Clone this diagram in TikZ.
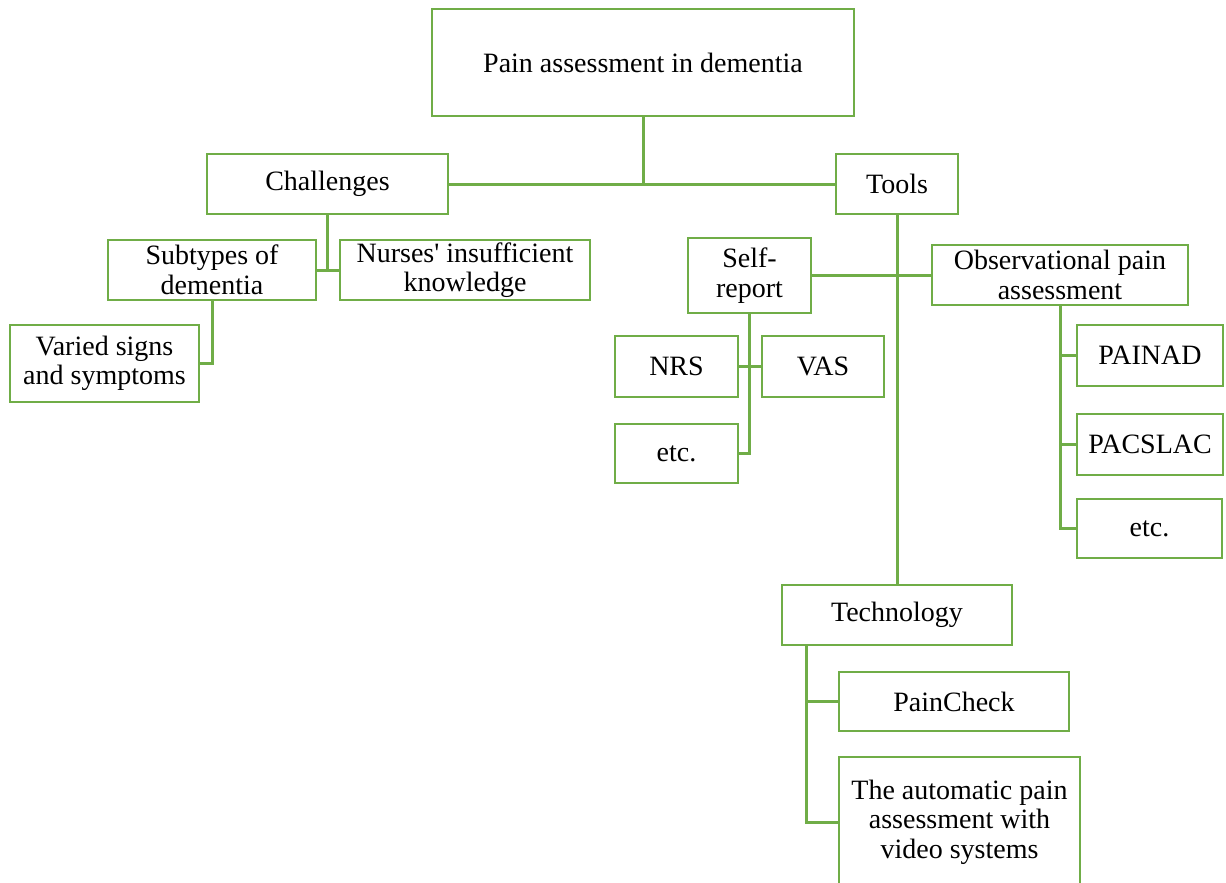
\documentclass[tikz,border=0pt]{standalone}
\usepackage{fontspec}
\setmainfont{Liberation Serif}
\definecolor{grn}{RGB}{112,173,71}
\begin{document}
\begin{tikzpicture}[x=0.5pt,y=-0.5pt,
  box/.style={draw=grn, line width=1.35pt, inner sep=0pt, align=center, font=\fontsize{14}{14.8}\selectfont},
  sz/.style 2 args={minimum width=#1*0.5pt, minimum height=#2*0.5pt},
  conn/.style={draw=grn, line width=1.5pt}]
\useasboundingbox (0,0) rectangle (1226,883);
\node[box, sz={422}{107}] (root) at (643,62.5) {Pain assessment in dementia};
\node[box, sz={241}{60}] (chal) at (327.5,184) {Challenges};
\node[box, sz={122}{60}] (tools) at (897,184) {Tools};
\node[box, sz={208}{60}] (sub) at (212,270) {Subtypes of\\dementia};
\node[box, sz={250}{60}] (nurse) at (465,270) {Nurses\textquotesingle{} insufficient\\knowledge};
\node[box, sz={189}{77}] (varied) at (104.5,363.5) {Varied signs\\and symptoms};
\node[box, sz={123}{75}] (self) at (749.5,275.5) {Self-\\report};
\node[box, sz={256}{60}] (obs) at (1060,275) {Observational pain\\assessment};
\node[box, sz={123}{61}] (nrs) at (676.5,366.5) {NRS};
\node[box, sz={122}{61}] (vas) at (823,366.5) {VAS};
\node[box, sz={123}{59}] (etcA) at (676.5,453.5) {etc.};
\node[box, sz={146}{61}] (painad) at (1150,355.5) {PAINAD};
\node[box, sz={146}{61}] (pacslac) at (1150,444.5) {PACSLAC};
\node[box, sz={145}{59}] (etcB) at (1149.5,528.5) {etc.};
\node[box, sz={230}{60}] (tech) at (897,615) {Technology};
\node[box, sz={230}{59}] (pc) at (954,701.5) {PainCheck};
\node[box, sz={241}{130}] (auto) at (959.5,822) {The automatic pain\\assessment with\\video systems};
\coordinate (techstem) at (806,645);
\draw[conn] (root.south) -- (root.south |- chal.east);
\draw[conn] (chal.east) -- (tools.west);
\draw[conn] (chal.south) -- (chal.south |- sub.east);
\draw[conn] (sub.east) -- (nurse.west);
\draw[conn] (sub.south) |- (varied.east);
\draw[conn] (tools.south) -- (tech.north);
\draw[conn] (self.east) -- (self.east -| obs.west);
\draw[conn] (self.south) |- (etcA.east);
\draw[conn] (nrs.east) -- (vas.west);
\draw[conn] (obs.south) |- (etcB.west);
\draw[conn] (obs.south |- painad.west) -- (painad.west);
\draw[conn] (obs.south |- pacslac.west) -- (pacslac.west);
\draw[conn] (techstem) |- (auto.west);
\draw[conn] (techstem |- pc.west) -- (pc.west);
\end{tikzpicture}
\end{document}
